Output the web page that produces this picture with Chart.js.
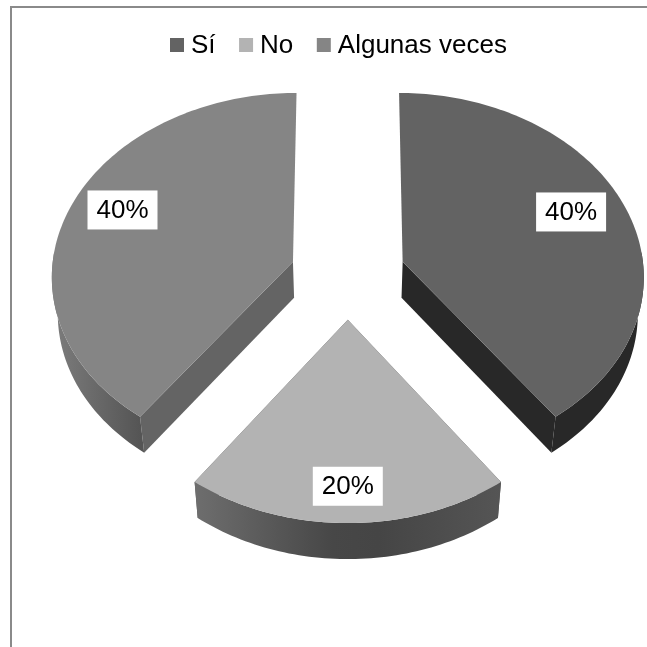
<!DOCTYPE html>
<html>
<head>
<meta charset="utf-8">
<script src="https://cdn.jsdelivr.net/npm/chart.js@4/dist/chart.umd.min.js"></script>
<style>
  html, body { margin: 0; padding: 0; background: #fff; }
  canvas { display: block; }
</style>
</head>
<body>
<canvas id="grafico" width="647" height="647"></canvas>
<script>
const categorias = ["Sí", "No", "Algunas veces"];
const valores = [40, 20, 40];
const etiquetas = ["40%", "20%", "40%"];

const coloresCara = ["#636363", "#b3b3b3", "#858585"];
const coloresLado = ["#282828", "#5a5a5a", "#646464"];
// gradient stops of the rim of each slice, [position, colour]
const coloresBorde = [
  [[0, "#282828"], [1, "#282828"]],
  [[0, "#6e6e6e"], [0.45, "#474747"], [0.6, "#454545"], [1, "#555555"]],
  [[0, "#7d7d7d"], [1, "#555555"]],
];
// where the label sits inside each slice: radius fraction, then a small nudge in px
const etiquetaRadio = [0.744, 0.82, 0.744];
const etiquetaAjuste = [[2, -9], [0, 2], [-4, -11]];

const FUENTE = '"Liberation Sans", Arial, sans-serif';

// fake 3D view: flat pie from chart.js -> tilted plane with perspective
const ESCALA_X = 241.5;
const ESCALA_Y = 182.5;
const PERSPECTIVA = 0.07;
const GROSOR = 36;
const ENCOGE = 0.98;

const pie3d = {
  id: "pie3d",
  beforeDraw(chart) {
    const ctx = chart.ctx;
    ctx.save();
    ctx.fillStyle = "#8a8a8a";
    ctx.fillRect(10, 6, 637, 2);
    ctx.fillRect(10, 6, 2, 641);

    // legend
    ctx.font = "26px " + FUENTE;
    ctx.textBaseline = "alphabetic";
    let x = 170;
    categorias.forEach((nombre, i) => {
      ctx.fillStyle = coloresCara[i];
      ctx.fillRect(x, 38, 14, 14);
      ctx.fillStyle = "#000";
      ctx.fillText(nombre, x + 21, 53);
      x += 21 + ctx.measureText(nombre).width + 23.5;
    });
    ctx.restore();
  },
  beforeDatasetDraw(chart, args) {
    const ctx = chart.ctx;
    const arcos = args.meta.data;
    const cx = arcos[0].x;
    const cy = arcos[0].y;

    const proyecta = (u, v) => {
      const p = 1 / (1 - PERSPECTIVA * v);
      return { x: cx + u * ESCALA_X * p, y: cy + v * ESCALA_Y * p };
    };
    const abajo = (pt) => ({ x: cx + (pt.x - cx) * ENCOGE, y: pt.y + GROSOR });
    const traza = (puntos) => {
      ctx.beginPath();
      puntos.forEach((pt, i) => (i ? ctx.lineTo(pt.x, pt.y) : ctx.moveTo(pt.x, pt.y)));
      ctx.closePath();
    };

    const cunas = arcos.map((arco) => {
      const R = arco.outerRadius;
      const medio = (arco.startAngle + arco.endAngle) / 2;
      const ou = (Math.cos(medio) * arco.options.offset) / R;
      const ov = (Math.sin(medio) * arco.options.offset) / R;
      const borde = [];
      const pasos = Math.ceil((arco.endAngle - arco.startAngle) / 0.02);
      for (let k = 0; k <= pasos; k++) {
        const a = arco.startAngle + ((arco.endAngle - arco.startAngle) * k) / pasos;
        borde.push(proyecta(ou + Math.cos(a), ov + Math.sin(a)));
      }
      return { centro: proyecta(ou, ov), borde, ou, ov, medio };
    });

    ctx.save();
    cunas.forEach((c, i) => {
      const ini = c.borde[0];
      const fin = c.borde[c.borde.length - 1];
      ctx.fillStyle = coloresLado[i];
      // only the straight sides that run towards the viewer
      [ini, fin].forEach((pt) => {
        if (pt.y < c.centro.y) return;
        traza([c.centro, pt, abajo(pt), abajo(c.centro)]);
        ctx.fill();
      });

      const xs = c.borde.map((p) => p.x);
      // the back of the left slice is hidden, so its gradient only spans the visible part
      const desde = Math.min(...xs);
      const hasta = i === 2 ? c.borde[0].x : Math.max(...xs);
      const grad = ctx.createLinearGradient(desde, 0, hasta, 0);
      coloresBorde[i].forEach(([pos, col]) => grad.addColorStop(pos, col));
      ctx.fillStyle = grad;
      // rim only from the widest point down, the back of it stays behind the top face
      const frente = c.borde.filter((p) => p.y >= c.centro.y - 10);
      traza(frente.concat(frente.map(abajo).reverse()));
      ctx.fill();
    });

    cunas.forEach((c, i) => {
      ctx.fillStyle = coloresCara[i];
      traza([c.centro].concat(c.borde));
      ctx.fill();
    });

    // value labels
    ctx.font = "26px " + FUENTE;
    ctx.textAlign = "center";
    ctx.textBaseline = "middle";
    cunas.forEach((c, i) => {
      const r = etiquetaRadio[i];
      const pt = proyecta(c.ou + Math.cos(c.medio) * r, c.ov + Math.sin(c.medio) * r);
      const lx = pt.x + etiquetaAjuste[i][0];
      const ly = pt.y + etiquetaAjuste[i][1];
      ctx.fillStyle = "#fff";
      ctx.fillRect(lx - 35, ly - 19.5, 70, 39);
      ctx.fillStyle = "#000";
      ctx.fillText(etiquetas[i], lx, ly + 1);
    });
    ctx.restore();
    return false;
  },
};

new Chart(document.getElementById("grafico").getContext("2d"), {
  type: "pie",
  data: {
    labels: categorias,
    datasets: [
      {
        data: valores,
        backgroundColor: coloresCara,
        borderWidth: 0,
        offset: 57.6,
        hoverOffset: 0,
      },
    ],
  },
  options: {
    responsive: false,
    animation: false,
    events: [],
    radius: 240,
    layout: { padding: { left: 48.6, bottom: 96.4 } },
    plugins: {
      legend: { display: false },
      tooltip: { enabled: false },
    },
  },
  plugins: [pie3d],
});
</script>
</body>
</html>
